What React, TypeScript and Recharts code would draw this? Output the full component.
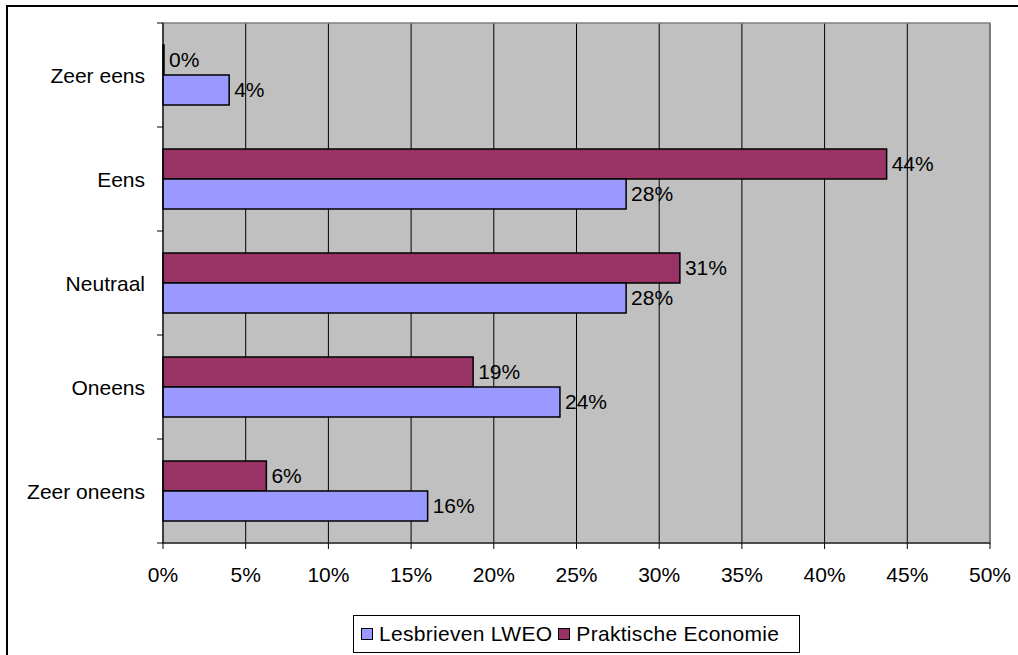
import React from 'react'
import {
  BarChart,
  Bar,
  XAxis,
  YAxis,
  CartesianGrid,
  LabelList,
  ReferenceArea,
} from 'recharts'

// answers per category, in percent of respondents
const categories = ['Zeer eens', 'Eens', 'Neutraal', 'Oneens', 'Zeer oneens']
const lesbrievenValues = [4, 28, 28, 24, 16]
const praktischeValues = [0, 43.75, 31.25, 18.75, 6.25]
const xTicks = [0, 5, 10, 15, 20, 25, 30, 35, 40, 45, 50]
const seriesNames = ['Lesbrieven LWEO', 'Praktische Economie']
const seriesColors = ['#9999FF', '#993366']

const FONT = '"Liberation Sans", Arial, sans-serif'
const WIDTH = 1018
const HEIGHT = 655
const TOP = 23
const BOTTOM_AXIS = 112
const PLOT_H = HEIGHT - TOP - BOTTOM_AXIS
const BAND = PLOT_H / categories.length

const data = categories.map((name, i) => ({
  name,
  lesbrieven: lesbrievenValues[i],
  praktische: praktischeValues[i],
}))

const pct = (v: any) => `${Math.round(Number(v))}%`

const CategoryTick = (props: any) => {
  const { x, y, payload, index } = props
  const last = index === categories.length - 1
  return (
    <g>
      <text
        x={x - 18}
        y={y}
        textAnchor="end"
        dominantBaseline="central"
        fontSize={21}
        fontFamily={FONT}
        fill="#000"
      >
        {payload.value}
      </text>
      <line x1={x - 6} x2={x} y1={y - BAND / 2} y2={y - BAND / 2} stroke="#000" />
      {last && (
        <line x1={x - 6} x2={x} y1={y + BAND / 2} y2={y + BAND / 2} stroke="#000" />
      )}
    </g>
  )
}

const LegendBox = () => (
  <div
    style={{
      position: 'absolute',
      left: 353,
      top: 615,
      width: 447,
      height: 38,
      border: '1px solid #000',
      background: '#fff',
      display: 'flex',
      alignItems: 'center',
      paddingLeft: 7,
      boxSizing: 'border-box',
      fontFamily: FONT,
      fontSize: 21,
      letterSpacing: 0.3,
      color: '#000',
      whiteSpace: 'nowrap',
    }}
  >
    {seriesNames.map((name, i) => (
      <span key={name} style={{ display: 'flex', alignItems: 'center', marginRight: 6 }}>
        <span
          style={{
            display: 'inline-block',
            width: 10,
            height: 10,
            border: '1px solid #000',
            background: seriesColors[i],
            marginRight: 6,
          }}
        />
        {name}
      </span>
    ))}
  </div>
)

export default function App() {
  return (
    <div
      style={{
        position: 'absolute',
        left: 0,
        top: 0,
        width: WIDTH,
        height: HEIGHT,
        overflow: 'hidden',
        background: '#fff',
      }}
    >
      <div
        style={{
          position: 'absolute',
          left: 6,
          top: 5,
          width: 1100,
          height: 800,
          border: '2px solid #000',
        }}
      />
      <div style={{ position: 'absolute', left: 0, top: 0 }}>
        <BarChart
          width={WIDTH}
          height={HEIGHT}
          data={data}
          layout="vertical"
          margin={{ top: TOP, right: 28, left: 0, bottom: 0 }}
          barCategoryGap={22}
          barGap={0}
        >
          <CartesianGrid
            horizontal={false}
            stroke="#000"
            fill="#C0C0C0"
            fillOpacity={1}
          />
          <ReferenceArea x1={0} x2={50} fill="none" stroke="#808080" strokeWidth={1.5} />
          <XAxis
            type="number"
            domain={[0, 50]}
            ticks={xTicks}
            tickFormatter={(v) => `${v}%`}
            height={BOTTOM_AXIS}
            tickSize={6}
            tickMargin={18}
            axisLine={{ stroke: '#000' }}
            tickLine={{ stroke: '#000' }}
            tick={{ fontSize: 21, fill: '#000', fontFamily: FONT }}
            interval={0}
          />
          <YAxis
            type="category"
            dataKey="name"
            width={163}
            tickSize={0}
            tickMargin={0}
            tickLine={false}
            axisLine={{ stroke: '#000' }}
            tick={<CategoryTick />}
            interval={0}
          />
          <Bar
            dataKey="praktische"
            name={seriesNames[1]}
            fill={seriesColors[1]}
            stroke="#000"
            strokeWidth={1.5}
            minPointSize={1}
            isAnimationActive={false}
          >
            <LabelList
              dataKey="praktische"
              position="right"
              offset={5}
              formatter={pct}
              fill="#000"
              fontSize={21}
              fontFamily={FONT}
            />
          </Bar>
          <Bar
            dataKey="lesbrieven"
            name={seriesNames[0]}
            fill={seriesColors[0]}
            stroke="#000"
            strokeWidth={1.5}
            isAnimationActive={false}
          >
            <LabelList
              dataKey="lesbrieven"
              position="right"
              offset={5}
              formatter={pct}
              fill="#000"
              fontSize={21}
              fontFamily={FONT}
            />
          </Bar>
        </BarChart>
      </div>
      <LegendBox />
    </div>
  )
}
